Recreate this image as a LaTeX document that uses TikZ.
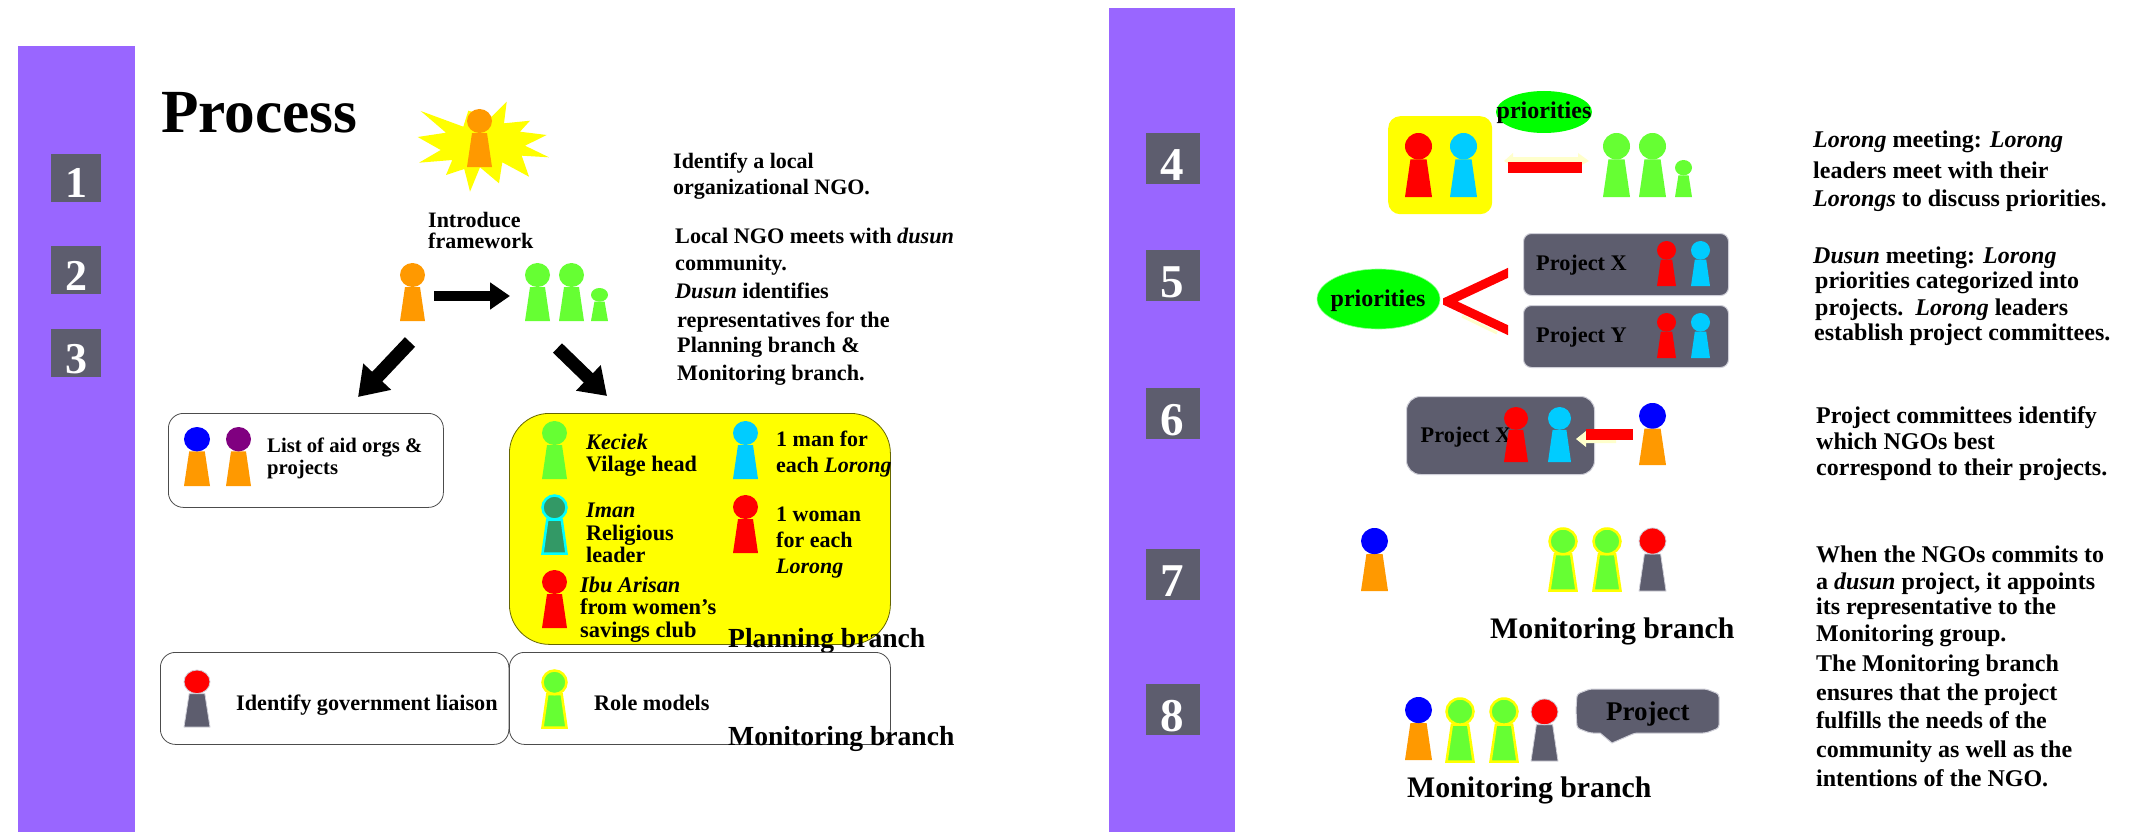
\documentclass[tikz,border=0pt]{standalone}
\usepackage{fontspec}
\setmainfont{Liberation Serif}
\usetikzlibrary{arrows.meta,shapes.geometric}
\definecolor{band}{HTML}{9966FF}
\definecolor{slate}{HTML}{5D5D6E}
\definecolor{slateedge}{HTML}{CFCFD8}
\definecolor{orng}{HTML}{FF9900}
\definecolor{grn}{HTML}{66FF33}
\definecolor{cyn}{HTML}{00CCFF}
\definecolor{cyb}{HTML}{00FFFF}
\definecolor{yel}{HTML}{FFFF00}
\definecolor{sea}{HTML}{339966}
\definecolor{prp}{HTML}{800080}
\definecolor{pale}{HTML}{FFFFCC}
\definecolor{prio}{HTML}{00FF00}
\newcommand\digitdown[1]{\raisebox{-20pt}[0pt][0pt]{#1}}
\newcommand\digitdownb[1]{\raisebox{-21.5pt}[0pt][0pt]{#1}}
\newcommand\person[7][]{%
  \pgfmathsetmacro\psCx{#2+#4/2}%
  \pgfmathsetmacro\psRx{#4/2}%
  \pgfmathsetmacro\psRy{.207*#5}%
  \pgfmathsetmacro\psCy{#3+\psRy}%
  \pgfmathsetmacro\psNy{#3+.414*#5}%
  \pgfmathsetmacro\psBy{#3+#5}%
  \pgfmathsetmacro\psTl{#2+.2*#4}%
  \pgfmathsetmacro\psTr{#2+.8*#4}%
  \pgfmathsetmacro\psR{#2+#4}%
  \path[fill=#7,#1] (\psTl,\psNy)--(\psTr,\psNy)--(\psR,\psBy)--(#2,\psBy)--cycle;
  \path[fill=#6,#1] (\psCx,\psCy) ellipse [x radius=\psRx, y radius=\psRy];
}
\tikzset{
  lb/.style={anchor=base west,inner sep=0pt,font=\fontsize{#1}{#1}\selectfont\bfseries},
  numbox/.style={fill=slate,text=white,inner sep=0pt,minimum width=50pt,minimum height=48pt,font=\fontsize{44}{44}\selectfont\bfseries},
  numboxb/.style={fill=slate,text=white,inner sep=0pt,minimum width=54pt,minimum height=51pt,font=\fontsize{47}{47}\selectfont\bfseries},
  panel/.style={draw=black!70!white,line width=.8pt,fill=white,anchor=north west,inner sep=0pt,rounded corners=15pt},
  projbox/.style={draw=slateedge,line width=1pt,fill=slate,anchor=north west,inner sep=0pt,rounded corners=8pt},
  ring/.style={draw=yel,line width=2.5pt},
  ringc/.style={draw=cyb,line width=2.5pt},
  edge/.style={draw=slateedge,line width=.8pt},
  blockarrow/.style={line width=#1,-{Triangle[width=#1*2.6,length=#1*2]}},
  redbar/.style={draw=red,line width=#1},
  prioshape/.style={ellipse,fill=prio,inner sep=0pt},
}
\begin{document}
\begin{tikzpicture}[x=1pt,y=-1pt]
\useasboundingbox[fill=white] (0,0) rectangle (2136,832);
% bands
\fill[band] (18,46) rectangle (135,832);
\fill[band] (1109,8) rectangle (1235,832);
% number boxes
\node[numbox] (n1) at (76,178) {\digitdown{1}};
\node[numbox] (n2) at (76,270) {\digitdown{2}};
\node[numbox] (n3) at (76,353) {\digitdown{3}};
\node[numboxb] (n4) at (1172.5,158.5) {\digitdownb{4}};
\node[numboxb] (n5) at (1172.5,275.5) {\digitdownb{5}};
\node[numboxb] (n6) at (1172.5,413.5) {\digitdownb{6}};
\node[numboxb] (n7) at (1172.5,574.5) {\digitdownb{7}};
\node[numboxb] (n8) at (1172.5,709.5) {\digitdownb{8}};
% title
\node[lb=61.3] (title) at (161,132) {Process};
% star
\fill[yel] (420.7,111)--(463.3,126.7)--(468.3,110.7)--(491.7,116.7)--(506.7,101.7)--(504,123.3)--(530,120.7)--(520,131.7)--(546.7,135)--(525,145.7)--(549,157.3)--(521.7,155.7)--(529,176.7)--(502.3,162.3)--(499,183.3)--(480,167.3)--(470,191.7)--(464.3,169)--(446,175)--(452.3,160)--(419,162.7)--(440.7,150)--(417.7,137)--(446,132.7)--cycle;
\person{467}{109}{25}{58}{orng}{orng}
% top left text
\node[lb=22] (intro1) at (428,227) {Introduce};
\node[lb=22] (intro2) at (428,248) {framework};
\person{400}{263}{25}{58}{orng}{orng}
\person{525}{263}{25}{58}{grn}{grn}
\person{559}{263}{25}{58}{grn}{grn}
\person{591}{288}{17}{33}{grn}{grn}
\coordinate (a1s) at (434,296);
\coordinate (a1e) at (510,296);
\draw[blockarrow=10pt] (a1s) -- (a1e);
\coordinate (a2s) at (410,342);
\coordinate (a2e) at (358,397);
\draw[blockarrow=14pt] (a2s) -- (a2e);
\coordinate (a3s) at (557.5,348);
\coordinate (a3e) at (607,396);
\draw[blockarrow=13pt] (a3s) -- (a3e);
\node[lb=22] (r1) at (673,168) {Identify a local};
\node[lb=22] (r2) at (673,194) {organizational NGO.};
\node[lb=22.2] (r3) at (675,243) {Local NGO meets with \textit{dusun}};
\node[lb=22.2] (r4) at (675,270) {community.};
\node[lb=22.2] (r5) at (675,298) {\textit{Dusun} identifies};
\node[lb=22.2] (r6) at (677,327) {representatives for the};
\node[lb=22.2] (r7) at (677,352) {Planning branch \&};
\node[lb=22.2] (r8) at (677,380) {Monitoring branch.};
% aid list
\node[panel,minimum width=275pt,minimum height=94pt] (listbox) at (168,413) {};
\person{184}{427}{26}{59}{blue}{orng}
\person{226}{427}{25}{59}{prp}{orng}
\node[lb=20.7] (l1) at (267,452) {List of aid orgs \&};
\node[lb=20.7] (l2) at (267,474) {projects};
% planning
\node[panel,draw=black!60!yel,fill=yel,rounded corners=40pt,minimum width=381pt,minimum height=231pt] (planbox) at (509,413) {};
\person{542}{421}{25}{58}{grn}{grn}
\person{733}{421}{25}{58}{cyn}{cyn}
\node[lb=22.2] (p1) at (586,449) {\textit{Keciek}};
\node[lb=22.2] (p2) at (586,471) {Vilage head};
\node[lb=22] (p3) at (776,446) {1 man for};
\node[lb=22] (p4) at (776,472) {each \textit{Lorong}};
\person[ringc]{542.5}{495.5}{24}{58}{sea}{sea}
\node[lb=22.2] (p5) at (586,517) {\textit{Iman}};
\node[lb=22.2] (p6) at (586,540) {Religious};
\node[lb=22.2] (p7) at (586,562) {leader};
\person{733}{495}{25}{58}{red}{red}
\node[lb=22] (p8) at (776,521) {1 woman};
\node[lb=22] (p9) at (776,547) {for each};
\node[lb=22] (p10) at (776,573) {\textit{Lorong}};
\person{542}{570}{25}{58}{red}{red}
\node[lb=22.4] (p11) at (580,592) {\textit{Ibu Arisan}};
\node[lb=22.4] (p12) at (580,614) {from women’s};
\node[lb=22.4] (p13) at (580,637) {savings club};
\node[lb=27.6] (planl) at (728,647) {Planning branch};
% bottom boxes
\node[panel,minimum width=348.5pt,minimum height=92pt] (govbox) at (160,652) {};
\node[panel,minimum width=381pt,minimum height=92pt] (rolebox) at (509,652) {};
\person[edge]{184}{670}{26}{57}{red}{slate}
\node[lb=22.2] (g1) at (236,710) {Identify government liaison};
\person[ring]{542.5}{670.5}{24}{57}{grn}{grn}
\node[lb=22.2] (g2) at (594,710) {Role models};
\node[lb=27.6] (monl) at (728,745) {Monitoring branch};
% scene 4
\node[fill=yel,anchor=north west,inner sep=0pt,rounded corners=12pt,minimum width=104pt,minimum height=98pt] (yb) at (1388,116) {};
\person{1405}{133}{27}{64}{red}{red}
\person{1450}{133}{27}{64}{cyn}{cyn}
\node[prioshape,minimum width=96pt,minimum height=42pt] (prio4) at (1544,112) {};
\node[lb=24,anchor=base] (prio4t) at (1544,119) {priorities};
\person{1603}{133}{27}{64}{grn}{grn}
\person{1639}{133}{27}{64}{grn}{grn}
\person{1675}{160}{17}{37}{grn}{grn}
\fill[pale] (1504,161)--(1513,153)--(1513,157)--(1578,157)--(1578,153)--(1589,161)--(1578,167)--(1513,167)--cycle;
\coordinate (b4s) at (1508,167.5);
\coordinate (b4e) at (1582,167.5);
\draw[redbar=11pt] (b4s) -- (b4e);
% scene 5
\node[prioshape,draw=prio!40!white,line width=.6pt,minimum width=123pt,minimum height=60pt] (prio5) at (1378.5,299) {};
\node[lb=24,anchor=base] (prio5t) at (1378,306) {priorities};
\draw[pale,line width=3pt] (1462,316)--(1497,333);
\draw[pale,line width=3pt] (1486,285)--(1496,281);
\coordinate (v5a) at (1447,301.5);
\coordinate (v5u) at (1520,267.2);
\coordinate (v5l) at (1520,335.8);
\begin{scope}
\clip (1443,260) rectangle (1508,340);
\draw[redbar=9pt,line join=miter] (v5u) -- (v5a) -- (v5l);
\end{scope}
\node[projbox,minimum width=205pt,minimum height=62pt] (px) at (1523,233) {};
\node[projbox,minimum width=205pt,minimum height=62pt] (py) at (1523,305) {};
\node[lb=22.3] (pxt) at (1536,270) {Project X};
\node[lb=22.3] (pyt) at (1536,342) {Project Y};
\person{1657}{241}{19}{45}{red}{red}
\person{1691}{241}{19}{45}{cyn}{cyn}
\person{1657}{313}{19}{45}{red}{red}
\person{1691}{313}{19}{45}{cyn}{cyn}
% scene 6
\node[projbox,rounded corners=14pt,minimum width=188pt,minimum height=78pt] (pz) at (1406,396) {};
\node[lb=22.3] (pzt) at (1420.5,442) {Project X};
\person{1504}{407}{24}{55}{red}{red}
\person{1548}{407}{23}{55}{cyn}{cyn}
\fill[pale] (1576,439)--(1586,431)--(1586,433)--(1616,433)--(1616,443)--(1586,443)--(1586,447)--cycle;
\coordinate (b6s) at (1586,434.5);
\coordinate (b6e) at (1633,434.5);
\draw[redbar=11pt] (b6s) -- (b6e);
\person{1639}{403}{27}{62}{blue}{orng}
% scene 7
\person{1361}{528}{27}{63}{blue}{orng}
\person[ring]{1549.5}{528.5}{27}{62}{grn}{grn}
\person[ring]{1593.5}{528.5}{27}{62}{grn}{grn}
\person[edge]{1639}{528}{27}{63}{red}{slate}
\node[lb=29.8] (m7) at (1490,638) {Monitoring branch};
% scene 8
\person{1405}{697}{27}{63}{blue}{orng}
\person[ring]{1446.5}{698.5}{27}{63}{grn}{grn}
\person[ring]{1490.5}{698.5}{27}{63}{grn}{grn}
\person[edge]{1531}{699}{27}{62}{red}{slate}
\path[fill=slate,draw=slateedge,line width=1pt,rounded corners=3pt] (1576,710)--(1577,694)--(1590,689)--(1706,689)--(1719,694)--(1719,728)--(1706,733)--(1635,733) [sharp corners] --(1612,743)--(1600,733) [rounded corners=3pt] --(1590,733)--(1577,728)--cycle;
\node[lb=27] (p8t) at (1606,720) {Project};
\node[lb=29.8] (m8) at (1407,797) {Monitoring branch};
% right text
\node[lb=24] (d1) at (1813,147) {\textit{Lorong} meeting: \textit{Lorong}};
\node[lb=24] (d2) at (1813,178) {leaders meet with their};
\node[lb=24] (d3) at (1813,206) {\textit{Lorongs} to discuss priorities.};
\node[lb=24] (d4) at (1813,263) {\textit{Dusun} meeting: \textit{Lorong}};
\node[lb=24] (d5) at (1815,288) {priorities categorized into};
\node[lb=24] (d6) at (1815,315) {projects.\ \ \textit{Lorong} leaders};
\node[lb=24] (d7) at (1814,340) {establish project committees.};
\node[lb=24] (d8) at (1816,423) {Project committees identify};
\node[lb=24] (d9) at (1816,449) {which NGOs best};
\node[lb=24] (d10) at (1816,475) {correspond to their projects.};
\node[lb=24] (e1) at (1816,562) {When the NGOs commits to};
\node[lb=24] (e2) at (1816,589) {a \textit{dusun} project, it appoints};
\node[lb=24] (e3) at (1816,614) {its representative to the};
\node[lb=24] (e4) at (1816,641) {Monitoring group.};
\node[lb=24] (e5) at (1816,671) {The Monitoring branch};
\node[lb=24] (e6) at (1816,700) {ensures that the project};
\node[lb=24] (e7) at (1816,728) {fulfills the needs of the};
\node[lb=24] (e8) at (1816,757) {community as well as the};
\node[lb=24] (e9) at (1816,786) {intentions of the NGO.};
\end{tikzpicture}
\end{document}
